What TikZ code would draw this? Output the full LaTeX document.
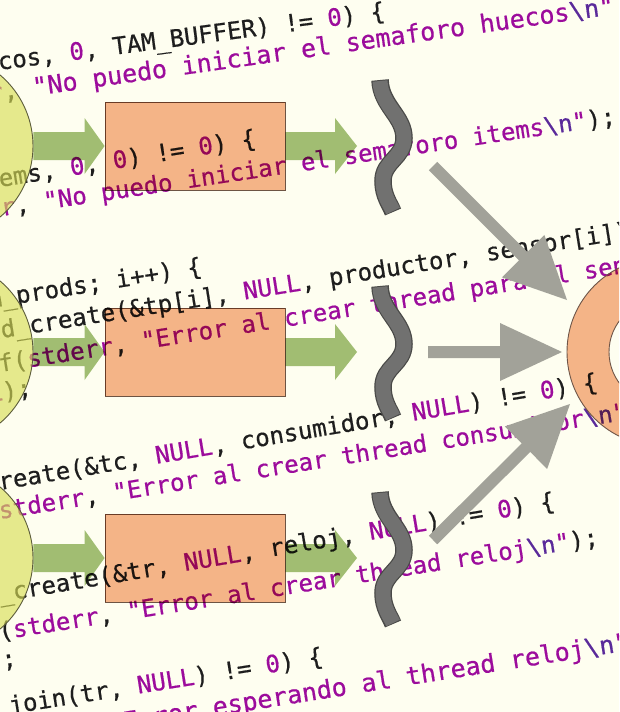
\documentclass[tikz,border=0pt]{standalone}
\usepackage{fontspec}
\newfontfamily\codefont[FakeBold=0.6]{DejaVu Sans Mono}
\usetikzlibrary{calc}
\definecolor{bgc}{HTML}{FEFEF0}
\definecolor{kwc}{HTML}{1E1E1E}
\definecolor{strc}{HTML}{9C0C9C}
\definecolor{escc}{HTML}{5A2A9A}
\definecolor{yelc}{HTML}{D8DE55}
\definecolor{yelb}{HTML}{5C5C3A}
\definecolor{grnc}{HTML}{98B86C}
\definecolor{salc}{HTML}{F4AE84}
\definecolor{salb}{HTML}{6E5548}
\definecolor{sqc}{HTML}{717170}
\definecolor{sqb}{HTML}{4A4A48}
\definecolor{garc}{HTML}{A2A299}
\frenchspacing
\newcommand\cP[1]{\textcolor{strc}{#1}}
\newcommand\cE{\textcolor{escc}{\textbackslash n}}
% #1 style, #2 from, #3 to, #4 shaft half width, #5 head length, #6 head half width
\newcommand\FatArrow[6]{%
  \coordinate (hb) at ($(#3)!#5!(#2)$);
  \fill[#1] ($(#2)!#4!90:(#3)$) -- ($(hb)!#4!-90:(#2)$) -- ($(hb)!#6!-90:(#2)$) -- (#3)
    -- ($(hb)!#6!90:(#2)$) -- ($(hb)!#4!90:(#2)$) -- ($(#2)!#4!-90:(#3)$) -- cycle;}
\begin{document}
\begin{tikzpicture}[x=1pt,y=-1pt,
  code/.style={anchor=base west,inner sep=0pt,outer sep=0pt,text=kwc,font=\codefont\fontsize{24}{24}\selectfont},
  ycirc/.style={circle,minimum size=186pt,inner sep=0pt,fill=yelc,fill opacity=0.64,draw=yelb,line width=0.9pt},
  garrow/.style={fill=grnc,fill opacity=0.9,blend mode=multiply},
  sbox/.style={rectangle,minimum width=180pt,minimum height=88pt,inner sep=0pt,fill=salc,fill opacity=0.9,draw=salb,line width=0.9pt,blend mode=multiply},
  squig/.style={draw=sqc,line width=15pt},
  squigb/.style={draw=sqb,line width=17.5pt},
  grayarrow/.style={fill=garc}]
\useasboundingbox (0,0) rectangle (619,712);
\fill[bgc] (0,0) rectangle (619,712);
\begin{scope}
\clip (0,0) rectangle (619,712);
% ---------------- code text ----------------
\node[code,rotate=7.5] (t1) at (-1,70) {\llap{if (sem\_init(\&hue}cos, \cP{0}, TAM\_BUFFER) != \cP{0}) \{};
\node[code,rotate=8,font=\codefont\fontsize{25}{25}\selectfont] (t2) at (4,100) {\llap{fprintf(\cP{stderr}}, \cP{"No puedo iniciar el semaforo huecos}\cE\cP{"});};
\node[code,rotate=9] (t3) at (0,187) {\llap{if (sem\_init(\&it}ems, \cP{0}, \cP{0}) != \cP{0}) \{};
\node[code,rotate=8.5] (t4) at (2,216) {\llap{fprintf(\cP{stde}}\cP{r}, \cP{"No puedo iniciar el semaforo items}\cE\cP{"});};
\node[code,rotate=9] (t5) at (3,306) {\llap{for (i = \cP{0}; i < num}\_prods; i++) \{};
\node[code,rotate=9] (t6) at (2,338) {\llap{if (pthrea}d\_create(\&tp[i], \cP{NULL}, productor, sensor[i]) != \cP{0}) \{};
\node[code,rotate=9] (t7) at (0,372) {\llap{fprint}f(\cP{stderr}, \cP{"Error al crear thread para el sensor \%d}\cE\cP{"}, i);};
\node[code,rotate=9] (t8) at (4,400) {\llap{exit(\cP{1}});};
\node[code,rotate=9.5] (t9) at (0,490) {\llap{if (pthread\_c}reate(\&tc, \cP{NULL}, consumidor, \cP{NULL}) != \cP{0}) \{};
\node[code,rotate=9] (t10) at (0,519) {\llap{fprintf(}\cP{stderr}, \cP{"Error al crear thread consumidor}\cE\cP{"});};
\node[code,rotate=9.5] (t11) at (0,602) {\llap{if (pthread}\_create(\&tr, \cP{NULL}, reloj, \cP{NULL}) != \cP{0}) \{};
\node[code,rotate=9] (t12) at (0,640) {\llap{fprintf}(\cP{stderr}, \cP{"Error al crear thread reloj}\cE\cP{"});};
\node[code,rotate=9] (t13) at (3,668) {\llap{exit(\cP{1})};};
\node[code,rotate=9] (t14) at (10,714) {\llap{if (pthread\_}join(tr, \cP{NULL}) != \cP{0}) \{};
\node[code,rotate=9,font=\codefont\fontsize{25}{25}\selectfont] (t15) at (214,716) {\llap{fprintf(\cP{stderr}, \cP{"Error }}\cP{esperando al thread reloj}\cE\cP{"});};
% ---------------- three rows ----------------
\foreach \c/\n in {146/1,352/2,558/3}{
  \node[ycirc] (c\n) at (-60,\c) {};
  \node[sbox] (p\n) at (195,\c) {};
  \coordinate (e\n) at (357,\c);
  \FatArrow{garrow}{c\n.east}{p\n.west}{14pt}{20pt}{28pt}
  \FatArrow{garrow}{p\n.east}{e\n}{14pt}{22pt}{28pt}
  \draw[squigb] (380,\c-66) .. controls (381,\c-40) and (404,\c-30) .. (404,\c-8)
     .. controls (404,\c+12) and (383,\c+15) .. (383,\c+35)
     .. controls (383,\c+50) and (390,\c+58) .. (393,\c+66);
  \draw[squig] (380,\c-65) .. controls (381,\c-40) and (404,\c-30) .. (404,\c-8)
     .. controls (404,\c+12) and (383,\c+15) .. (383,\c+35)
     .. controls (383,\c+50) and (390,\c+58) .. (393,\c+65);
}
% ---------------- gray arrows to the ring ----------------
\coordinate (g1s) at (433,166);
\coordinate (g1e) at (567,300);
\coordinate (g2s) at (428,352);
\coordinate (g2e) at (562,352);
\coordinate (g3s) at (433,540);
\coordinate (g3e) at (570,404);
\FatArrow{grayarrow}{g1s}{g1e}{6pt}{62pt}{30pt}
\FatArrow{grayarrow}{g2s}{g2e}{6pt}{62pt}{29pt}
\FatArrow{grayarrow}{g3s}{g3e}{6pt}{62pt}{30pt}
% ---------------- ring ----------------
\node[circle,minimum size=188pt,inner sep=0pt] (ring) at (661,352) {};
\fill[salc,fill opacity=0.9,blend mode=multiply,even odd rule] (ring.center) circle (94pt) (ring.center) circle (52pt);
\draw[salb,line width=0.9pt] (ring.center) circle (94pt) (ring.center) circle (52pt);
\end{scope}
\end{tikzpicture}
\end{document}
